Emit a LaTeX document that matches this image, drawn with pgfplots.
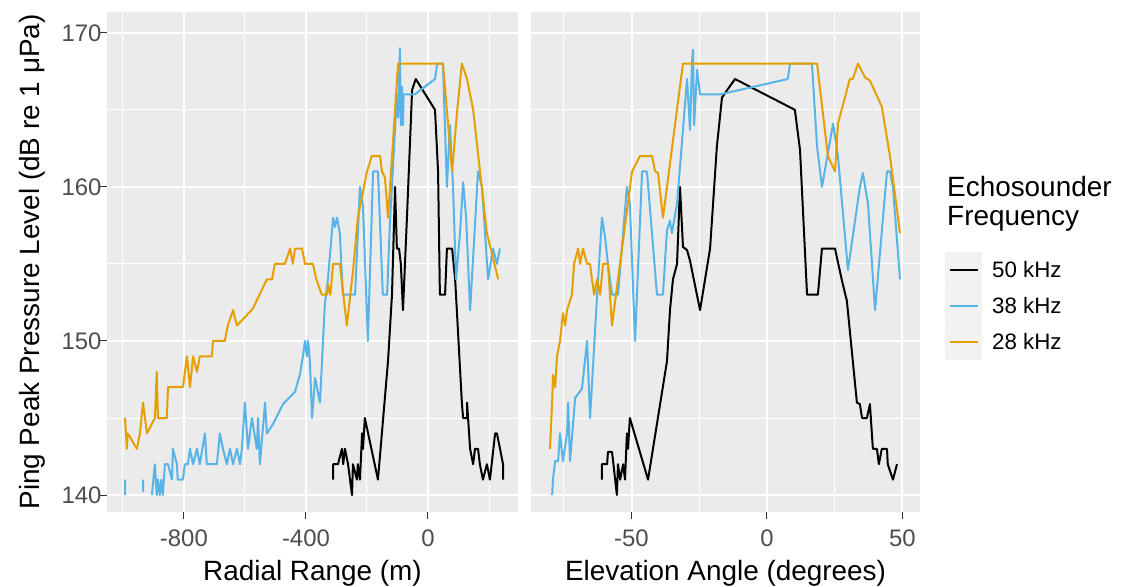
\documentclass[border=0pt]{standalone}
\usepackage{pgfplots}
\pgfplotsset{compat=1.18}
\usepackage{fontspec}
\setmainfont{Liberation Sans}

\definecolor{panelbg}{HTML}{EBEBEB}
\definecolor{legkey}{HTML}{F2F2F2}
\definecolor{grey30}{HTML}{4D4D4D}
\definecolor{grey20}{HTML}{333333}
\definecolor{f28}{HTML}{E69F00}
\definecolor{f38}{HTML}{56B4E9}
\definecolor{f50}{HTML}{000000}

\pgfplotsset{
  panel/.style={
    scale only axis, anchor=south west, height=500bp,
    axis background/.style={fill=panelbg},
    axis line style={draw=none},
    grid=both,
    major grid style={white, line width=2bp},
    minor grid style={white, line width=1bp},
    tick align=outside, tick pos=left,
    major tick length=7bp, minor tick length=0pt,
    tick style={color=grey20, line width=1bp},
    ymin=138.9, ymax=171.35,
    ytick={140,150,160,170},
    minor ytick={145,155,165},
    ticklabel style={font=\fontsize{24}{24}\selectfont, text=grey30},
    xticklabel style={yshift=-7bp},
    yticklabel style={xshift=5bp},
    label style={font=\fontsize{28}{28}\selectfont},
    xlabel style={yshift=-7bp},
    ylabel style={yshift=9bp},
    every axis plot/.append style={line width=2bp, line join=round},
    unbounded coords=jump,
  },
}

\begin{document}
\begin{tikzpicture}[x=1bp,y=1bp]
\path[use as bounding box] (0,0) rectangle (1130,587);

% ---------------- Radial range panel ----------------
\begin{axis}[panel, at={(107bp,75bp)}, width=411bp,
  xmin=-1052, xmax=295,
  xtick={-800,-400,0}, xticklabels={-800,-400,0},
  minor xtick={-1000,-600,-200,200},
  yticklabels={140,150,160,170},
  xlabel={Radial Range (m)},
  ylabel={Ping Peak Pressure Level (dB re 1 μPa)},
]
\addplot[f50] table {
x y
-311 141
-311 142
-295 142
-282 143
-278 142
-272 143
-262 142
-249 140
-246 142
-233 141
-230 142
-223 141
-216 144
-213 143
-207 145
-164 141
-131 148.7
-118 153
-108 160
-102 156
-95 156
-89 155
-82 152
-69 158
-52 166.3
-40 167
23 165
33 161
39 153
56 153
62 156
79 156
89 154
111 146
115 145
128 145
128 146
138 143
148 142
154 143
164 143
170 142
180 141
193 142
203 141
220 144
226 144
236 143
246 142
246 141
};
\addplot[f38] table {
x y
-993 141
-993 140
-960 nan
-934 141
-934 140.2
-920 nan
-905 140
-895 142
-889 140
-885 141
-879 140
-874 141
-869 140
-862 142
-852 142
-839 141
-836 143
-823 142
-820 141
-803 141
-797 142
-787 142
-780 143
-770 142
-757 143
-748 142
-731 144
-725 142
-692 142
-682 144
-672 143
-659 142
-649 143
-639 142
-626 143
-616 142
-610 143
-600 146
-590 143
-577 145
-561 143
-557 145
-551 142
-534 146
-528 144
-508 144.6
-475 145.9
-436 146.7
-420 147.8
-410 149
-403 150
-397 149
-393 150
-387 148.7
-380 145
-370 147.6
-354 146
-338 152.4
-328 154
-311 158
-305 157.4
-298 158
-289 157
-279 153
-239 153
-223 160
-213 158.7
-197 150
-180 161
-164 161
-148 153
-134 153
-125 157.6
-108 163.7
-102 166
-98 164.5
-92 169
-89 164
-85 166.5
-82 164
-80 166
-43 166
23 167
30 168
49 168
56 163.7
62 160
72 164
82 160
92 154
105 157
115 160.3
125 158
138 152
164 161
177 160
197 154
213 156
226 155
236 156
};
\addplot[f28] table {
x y
-993 145
-987 143
-984 144
-954 143
-944 144
-934 146
-921 144
-895 145
-889 148
-885 145
-856 145
-852 147
-803 147
-790 149
-780 147
-770 149
-757 148
-748 149
-708 149
-705 150
-666 150
-656 151
-639 152
-626 151
-607 151.4
-574 152.1
-528 154
-511 154
-502 155
-469 155
-452 156
-443 155
-436 156
-413 156
-403 155
-377 155
-366 154
-348 153
-331 153
-328 153.7
-320 153
-311 155
-289 155
-266 151
-246 154.5
-230 158
-200 161
-184 162
-157 162
-151 161
-141 160.6
-131 158
-98 168
49 168
79 161
95 164.8
111 168
128 167
148 165
193 157
230 154
};
\end{axis}

% ---------------- Elevation angle panel ----------------
\begin{axis}[panel, at={(531bp,75bp)}, width=389bp,
  xmin=-87.1, xmax=56.5,
  xtick={-50,0,50}, xticklabels={-50,0,50},
  minor xtick={-75,-25,25},
  yticklabels={}, y tick style={draw=none},
  xlabel={Elevation Angle (degrees)},
  legend style={at={(1.064,0.52)}, anchor=north west, draw=none, fill=none,
    font=\fontsize{22.4}{22.4}\selectfont, inner sep=0pt, row sep=0pt,
    nodes={inner sep=0pt, text=black}},
  legend cell align=left,
  legend image code/.code={
    \fill[legkey] (0bp,-17bp) rectangle (35bp,17bp);
    \draw[#1] (3.5bp,0bp) -- (31.5bp,0bp);
    \path (45bp,0bp);
  },
]
\addplot[f50] table {
x y
-60.9 141
-60.9 142
-59.0 142
-58.7 142.8
-57.2 142.8
-56.8 142.2
-55.4 140
-55.0 142
-54.2 141
-53.1 142
-52.4 141
-51.7 144
-51.3 143
-50.6 145
-43.9 141
-36.9 148.7
-35.8 152
-34.7 154
-33.2 155
-32.1 160
-31.0 156.1
-29.5 155.9
-28.4 155.2
-24.7 152
-21.0 156
-18.5 162.6
-16.6 165.8
-11.8 167
10.3 165
12.2 162.4
14.8 153
18.8 153
20.3 156
25.1 156
27.7 153.9
29.5 152.6
33.2 146
34.3 145.9
35.1 145
36.9 145
38.0 145.9
39.1 143
40.6 143
41.3 142
42.4 143
44.3 143
44.6 142
46.5 141
48.0 142
};
\addlegendentry{50 kHz}
\addplot[f38] table {
x y
-79.3 140
-79.0 141
-78.2 142.2
-77.1 142.2
-76.4 144
-75.3 142.2
-73.8 144
-73.4 146
-72.7 142.2
-70.8 146.3
-68.3 146.9
-66.4 150
-65.3 145
-62.7 153
-60.9 158
-59.8 156.8
-58.7 155
-57.2 153
-55.0 153
-51.7 160
-50.6 158.9
-48.7 150
-46.1 161
-44.3 161
-40.6 153
-38.4 153
-36.9 157.2
-35.8 157.8
-35.1 157
-33.2 158.9
-29.5 167
-28.4 163.7
-27.7 168
-27.3 168.9
-26.9 164
-25.8 167.6
-24.7 166
-17.3 166
7.7 167
8.5 168
16.6 168
18.5 162.6
20.3 160
24.4 164.1
26.2 162
29.9 154.6
34.3 160
35.4 160.9
37.3 158.9
39.9 152
44.3 161
45.4 161
46.5 160
49.1 154
};
\addlegendentry{38 kHz}
\addplot[f28] table {
x y
-80.1 143
-79.3 146
-79.0 147.8
-78.2 147
-77.5 149
-76.4 150
-75.3 151.8
-74.5 151
-73.8 152
-72.0 153
-71.2 155
-69.7 156
-69.0 155
-67.9 156
-66.4 155
-65.3 155
-64.6 154
-63.8 153
-62.7 154
-61.6 153
-60.5 155
-58.7 155
-57.2 151
-55.0 154
-49.8 161
-46.9 162
-42.4 162
-41.3 161
-40.2 160.9
-38.4 158
-31.0 168
18.5 168
22.5 162
25.1 161
26.2 164.1
30.6 167
31.7 167
33.6 168
36.2 167.1
38.0 166.9
42.4 165.2
45.4 162
49.1 157
};
\addlegendentry{28 kHz}
\end{axis}

\node[anchor=west, font=\fontsize{28}{28}\selectfont, inner sep=0pt] at (947,400) {Echosounder};
\node[anchor=west, font=\fontsize{28}{28}\selectfont, inner sep=0pt] at (947,368) {Frequency};
\end{tikzpicture}
\end{document}
